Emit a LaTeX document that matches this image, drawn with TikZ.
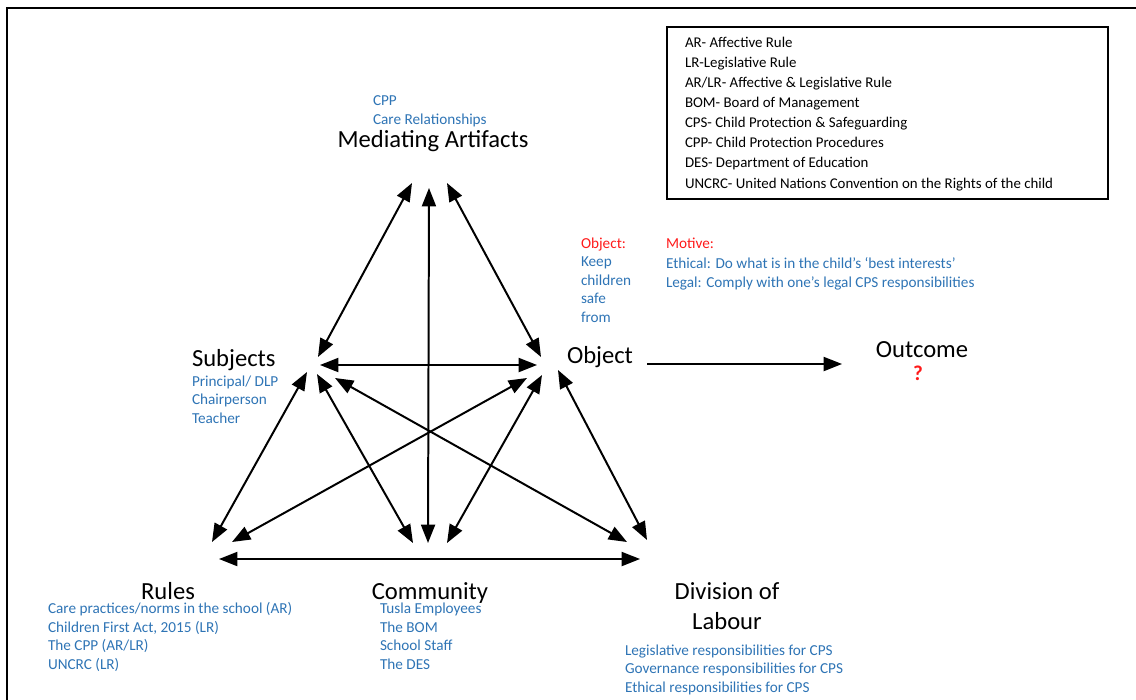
\documentclass[tikz,border=0pt]{standalone}
\usepackage{fontspec}
\setmainfont{Carlito}
\usepackage{xcolor}
\usetikzlibrary{arrows.meta,positioning,calc}
\definecolor{noteblue}{HTML}{2E74B5}
\definecolor{notered}{HTML}{FF1A1A}

\begin{document}
\begin{tikzpicture}[
  x=0.03cm, y=-0.03cm,
  every node/.style={inner sep=0pt, outer sep=0pt},
  corner/.style={font=\fontsize{21}{25.5}\selectfont, align=center},
  note/.style={font=\fontsize{13}{15.7}\selectfont, text=noteblue, align=left},
  flag/.style={font=\fontsize{13}{15.7}\selectfont, text=notered, align=left},
  keytext/.style={font=\fontsize{12.7}{17.1}\selectfont, align=left},
  link/.style={{Triangle[length=5.5mm,width=4.2mm]}-{Triangle[length=5.5mm,width=4.2mm]}, line width=1.7pt},
  lead/.style={-{Triangle[length=5.5mm,width=4.2mm]}, line width=1.7pt},
]
\useasboundingbox (0,0) rectangle (1136,700);
\draw[line width=1.2pt] (1136,8) -- (7,8) -- (7,700);

\node[keytext, anchor=base west] (keylist) at (685,188) {AR- Affective Rule\\LR-Legislative Rule\\AR/LR- Affective \& Legislative Rule\\BOM- Board of Management\\CPS- Child Protection \& Safeguarding\\CPP- Child Protection Procedures\\DES- Department of Education\\UNCRC- United Nations Convention on the Rights of the child};
\draw[line width=1pt] (667,27) rectangle (1108,199);

\node[corner, anchor=base] (mediating) at (433,147) {Mediating Artifacts};
\node[note, anchor=base west] (mediatingnote) at (373,124) {CPP\\Care Relationships};
\node[corner, anchor=base west] (subjects) at (192,366) {Subjects};
\node[note, anchor=base west] (subjectsnote) at (192,423) {Principal/ DLP\\Chairperson\\Teacher};
\node[corner, anchor=base west] (object) at (567,363) {Object};
\node[flag, anchor=base west] (objecthead) at (581,248) {Object:};
\node[note, anchor=base west] (objectnote) at (581,322) {Keep\\children\\safe\\from};
\node[flag, anchor=base west] (motivehead) at (666,248) {Motive:};
\node[note, anchor=base west] (motivenote) at (666,287) {Ethical: Do what is in the child’s ‘best interests’\\Legal: Comply with one’s legal CPS responsibilities};
\node[corner, anchor=base] (outcome) at (922,357) {Outcome};
\node[font=\fontsize{18}{20}\selectfont\bfseries, text=notered, anchor=base] (unknown) at (918,380) {?};
\node[corner, anchor=base] (rules) at (168,599) {Rules};
\node[note, anchor=base west] (rulesnote) at (48,669) {Care practices/norms in the school (AR)\\Children First Act, 2015 (LR)\\The CPP (AR/LR)\\UNCRC (LR)};
\node[corner, anchor=base] (community) at (430,599) {Community};
\node[note, anchor=base west] (communitynote) at (380,669) {Tusla Employees\\The BOM\\School Staff\\The DES};
\node[corner, anchor=base] (labour) at (727,629) {Division of\\Labour};
\node[note, anchor=base west] (labournote) at (625,692) {Legislative responsibilities for CPS\\Governance responsibilities for CPS\\Ethical responsibilities for CPS};

\coordinate (ma-sj) at (412,183);
\coordinate (ma-co) at (429,188);
\coordinate (ma-ob) at (447,183);
\coordinate (sj-ma) at (318,357);
\coordinate (sj-ob) at (320,365);
\coordinate (sj-ru) at (307,372);
\coordinate (sj-co) at (317,374);
\coordinate (sj-dl) at (335,378);
\coordinate (ob-ma) at (541,357);
\coordinate (ob-sj) at (537,365);
\coordinate (ob-ru) at (527,378);
\coordinate (ob-co) at (542,375);
\coordinate (ob-dl) at (558,370);
\coordinate (ob-out) at (647,364);
\coordinate (out-ob) at (842,364);
\coordinate (ru-sj) at (212,542);
\coordinate (ru-ob) at (232,542);
\coordinate (ru-dl) at (219,559);
\coordinate (co-sj) at (413,543);
\coordinate (co-ma) at (428,543);
\coordinate (co-ob) at (447,543);
\coordinate (dl-sj) at (627,542);
\coordinate (dl-ob) at (647,540);
\coordinate (dl-ru) at (640,559);

\draw[link] (ma-sj) -- (sj-ma);
\draw[link] (ma-ob) -- (ob-ma);
\draw[link] (ma-co) -- (co-ma);
\draw[link] (sj-ob) -- (ob-sj);
\draw[link] (sj-ru) -- (ru-sj);
\draw[link] (sj-co) -- (co-sj);
\draw[link] (sj-dl) -- (dl-sj);
\draw[link] (ob-ru) -- (ru-ob);
\draw[link] (ob-co) -- (co-ob);
\draw[link] (ob-dl) -- (dl-ob);
\draw[link] (ru-dl) -- (dl-ru);
\draw[lead] (ob-out) -- (out-ob);
\end{tikzpicture}
\end{document}
